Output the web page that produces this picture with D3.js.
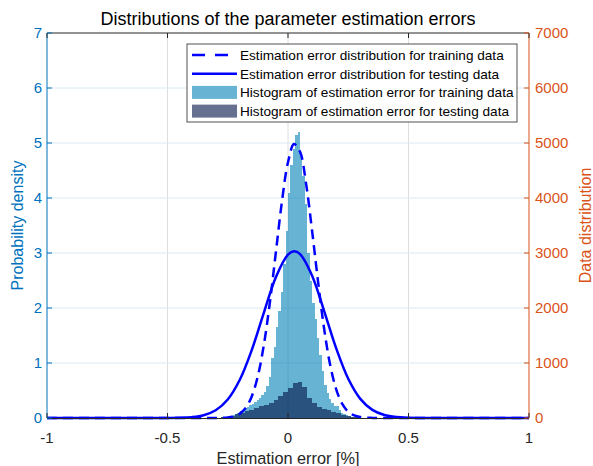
<!DOCTYPE html>
<html lang="en">
<head>
    <meta charset="UTF-8">
    <title>Distributions of the parameter estimation errors</title>
    <script src="https://d3js.org/d3.v7.min.js"></script>
    <style>
        body {
            margin: 0;
            background: #fff;
            font-family: "Liberation Sans", Arial, sans-serif;
        }
    </style>
</head>
<body>
    <div id="chart"></div>
    <script>
        // Axis ticks
        const xTicks = [-1, -0.5, 0, 0.5, 1];
        const yLeftTicks = [0, 1, 2, 3, 4, 5, 6, 7];
        const yRightTicks = [0, 1000, 2000, 3000, 4000, 5000, 6000, 7000];

        // Fitted distributions (probability density)
        const trainCurveX = [-1, -0.35, -0.325, -0.3, -0.275, -0.25, -0.225, -0.2, -0.175, -0.15, -0.125, -0.1, -0.075, -0.05, -0.025, 0, 0.025, 0.05, 0.075, 0.1, 0.125, 0.15, 0.175, 0.2, 0.225, 0.25, 0.275, 0.3, 0.325, 0.35, 0.375, 1];
        const trainCurveY = [0, 0, 0, 0.001, 0.004, 0.011, 0.031, 0.08, 0.187, 0.397, 0.763, 1.333, 2.109, 3.027, 3.94, 4.65, 4.98, 4.84, 4.26, 3.40, 2.47, 1.62, 0.965, 0.522, 0.256, 0.114, 0.046, 0.017, 0.006, 0.002, 0, 0];
        const testCurveX = [-1, -0.6, -0.55, -0.5, -0.45, -0.4, -0.35, -0.3, -0.25, -0.2, -0.15, -0.1, -0.05, 0, 0.025, 0.05, 0.1, 0.15, 0.2, 0.25, 0.3, 0.35, 0.4, 0.45, 0.5, 0.55, 0.6, 1];
        const testCurveY = [0, 0, 0, 0.001, 0.004, 0.016, 0.051, 0.141, 0.337, 0.695, 1.24, 1.917, 2.565, 2.97, 3.03, 2.98, 2.588, 1.945, 1.266, 0.713, 0.348, 0.147, 0.054, 0.017, 0.005, 0.001, 0, 0];

        // Histograms (counts), bins start at binStart and are binWidth wide
        const trainBinStart = -0.30, trainBinWidth = 0.01;
        const trainCounts = [5, 8, 12, 15, 20, 30, 45, 60, 80, 100, 125, 150, 175, 200, 230, 260, 290, 320, 360, 410, 480, 580, 750, 1100, 1300, 1650, 1950, 2300, 2800, 3400, 4100, 4600, 4900, 5150, 5200, 4800, 4400, 3900, 3000, 2500, 2100, 1800, 1450, 1150, 850, 600, 450, 350, 280, 220, 210, 140, 100, 70, 50, 35, 25, 15, 10, 6, 3];
        const testBinStart = -0.30, testBinWidth = 0.02;
        const testCounts = [5, 10, 20, 40, 70, 100, 125, 150, 175, 210, 240, 280, 330, 400, 470, 540, 630, 650, 560, 360, 270, 205, 160, 140, 110, 85, 60, 40, 25, 12, 5];

        const legendLabels = [
            "Estimation error distribution for training data",
            "Estimation error distribution for testing data",
            "Histogram of estimation error for training data",
            "Histogram of estimation error for testing data"
        ];

        const width = 593, height = 466;
        const margin = {top: 33, right: 64, bottom: 48, left: 47};
        const blueAxis = "#0072BD", orangeAxis = "#D95319", dark = "#262626";
        const trainFill = "rgb(0,128,182)", testFill = "rgb(0,17,70)";

        const svg = d3.select("#chart").append("svg")
            .attr("width", width)
            .attr("height", height)
            .style("font-family", "'Liberation Sans', Arial, sans-serif");

        const x = d3.scaleLinear().domain([-1, 1]).range([margin.left, width - margin.right]);
        const yL = d3.scaleLinear().domain([0, 7]).range([height - margin.bottom, margin.top]);
        const yR = d3.scaleLinear().domain([0, 7000]).range([height - margin.bottom, margin.top]);

        const x0 = margin.left, x1 = width - margin.right;
        const y0 = height - margin.bottom, y1 = margin.top;

        // Grid
        const grid = svg.append("g");
        grid.selectAll(".vg").data(xTicks.slice(1, -1)).enter().append("line")
            .attr("x1", d => x(d)).attr("x2", d => x(d))
            .attr("y1", y0).attr("y2", y1)
            .attr("stroke", "#dedede").attr("stroke-width", 1);
        grid.selectAll(".hg").data(yLeftTicks.slice(1, -1)).enter().append("line")
            .attr("x1", x0).attr("x2", x1)
            .attr("y1", d => yL(d)).attr("y2", d => yL(d))
            .attr("stroke", "#d9eaf5").attr("stroke-width", 1);

        // Histograms
        function drawHist(counts, start, w, fill) {
            svg.append("g").selectAll("rect")
                .data(counts.map((c, i) => ({x0: start + i * w, x1: start + (i + 1) * w, c: c})))
                .enter().append("rect")
                .attr("x", d => x(d.x0))
                .attr("width", d => x(d.x1) - x(d.x0))
                .attr("y", d => yR(d.c))
                .attr("height", d => yR(0) - yR(d.c))
                .attr("fill", fill)
                .attr("fill-opacity", 0.6)
                .attr("shape-rendering", "crispEdges");
        }
        drawHist(trainCounts, trainBinStart, trainBinWidth, trainFill);
        drawHist(testCounts, testBinStart, testBinWidth, testFill);

        // Curves
        const line = d3.line()
            .x(d => x(d[0]))
            .y(d => yL(d[1]))
            .curve(d3.curveCatmullRom);
        svg.append("path")
            .datum(trainCurveX.map((v, i) => [v, trainCurveY[i]]))
            .attr("d", line)
            .attr("fill", "none").attr("stroke", "blue")
            .attr("stroke-width", 2.5)
            .attr("stroke-dasharray", "10,6");
        svg.append("path")
            .datum(testCurveX.map((v, i) => [v, testCurveY[i]]))
            .attr("d", line)
            .attr("fill", "none").attr("stroke", "blue")
            .attr("stroke-width", 2.5);

        // Box / axes lines
        svg.append("line").attr("x1", x0).attr("x2", x1).attr("y1", y1).attr("y2", y1)
            .attr("stroke", dark).attr("stroke-width", 1);
        svg.append("line").attr("x1", x0).attr("x2", x1).attr("y1", y0 + 0.5).attr("y2", y0 + 0.5)
            .attr("stroke", dark).attr("stroke-width", 1);
        svg.append("line").attr("x1", x0).attr("x2", x0).attr("y1", y0).attr("y2", y1)
            .attr("stroke", blueAxis).attr("stroke-width", 1);
        svg.append("line").attr("x1", x1).attr("x2", x1).attr("y1", y0).attr("y2", y1)
            .attr("stroke", orangeAxis).attr("stroke-width", 1);

        // X ticks (bottom and top, inward)
        const tk = 5;
        xTicks.forEach(t => {
            svg.append("line").attr("x1", x(t)).attr("x2", x(t)).attr("y1", y0).attr("y2", y0 - tk)
                .attr("stroke", dark);
            svg.append("line").attr("x1", x(t)).attr("x2", x(t)).attr("y1", y1).attr("y2", y1 + tk)
                .attr("stroke", dark);
        });
        svg.append("g").selectAll("text").data(xTicks).enter().append("text")
            .attr("x", d => x(d)).attr("y", y0 + 25)
            .attr("text-anchor", "middle")
            .attr("font-size", 15).attr("fill", dark)
            .text(d => d);

        // Left y axis
        yLeftTicks.forEach(t => {
            svg.append("line").attr("x1", x0).attr("x2", x0 + tk).attr("y1", yL(t)).attr("y2", yL(t))
                .attr("stroke", blueAxis);
        });
        svg.append("g").selectAll("text").data(yLeftTicks).enter().append("text")
            .attr("x", x0 - 5).attr("y", d => yL(d) + 5)
            .attr("text-anchor", "end")
            .attr("font-size", 15).attr("fill", blueAxis)
            .text(d => d);

        // Right y axis
        yRightTicks.forEach(t => {
            svg.append("line").attr("x1", x1).attr("x2", x1 - tk).attr("y1", yR(t)).attr("y2", yR(t))
                .attr("stroke", orangeAxis);
        });
        svg.append("g").selectAll("text").data(yRightTicks).enter().append("text")
            .attr("x", x1 + 6).attr("y", d => yR(d) + 5)
            .attr("text-anchor", "start")
            .attr("font-size", 15).attr("fill", orangeAxis)
            .text(d => d);

        // Labels
        svg.append("text").attr("x", (x0 + x1) / 2).attr("y", 25)
            .attr("text-anchor", "middle").attr("font-size", 18).attr("fill", "#000")
            .text("Distributions of the parameter estimation errors");
        svg.append("text").attr("x", (x0 + x1) / 2).attr("y", 464)
            .attr("text-anchor", "middle").attr("font-size", 16.3).attr("fill", dark)
            .text("Estimation error [%]");
        svg.append("text")
            .attr("transform", `translate(23, ${(y0 + y1) / 2}) rotate(-90)`)
            .attr("text-anchor", "middle").attr("font-size", 16).attr("fill", blueAxis)
            .text("Probability density");
        svg.append("text")
            .attr("transform", `translate(591, ${(y0 + y1) / 2}) rotate(-90)`)
            .attr("text-anchor", "middle").attr("font-size", 16).attr("fill", orangeAxis)
            .text("Data distribution");

        // Legend
        const lg = svg.append("g").attr("transform", "translate(187, 44)");
        lg.append("rect").attr("width", 330).attr("height", 78)
            .attr("fill", "#fff").attr("stroke", dark).attr("stroke-width", 0.8);
        const rowY = i => 11 + i * 18.7;
        lg.append("line").attr("x1", 5).attr("x2", 50).attr("y1", rowY(0)).attr("y2", rowY(0))
            .attr("stroke", "blue").attr("stroke-width", 2.5).attr("stroke-dasharray", "13,10");
        lg.append("line").attr("x1", 5).attr("x2", 50).attr("y1", rowY(1)).attr("y2", rowY(1))
            .attr("stroke", "blue").attr("stroke-width", 2.5);
        lg.append("rect").attr("x", 5).attr("y", rowY(2) - 6.5).attr("width", 45).attr("height", 13)
            .attr("fill", trainFill).attr("fill-opacity", 0.6);
        lg.append("rect").attr("x", 5).attr("y", rowY(3) - 6.5).attr("width", 45).attr("height", 13)
            .attr("fill", testFill).attr("fill-opacity", 0.6);
        lg.selectAll(".lt").data(legendLabels).enter().append("text")
            .attr("x", 53).attr("y", (d, i) => rowY(i) + 5)
            .attr("font-size", 13.6).attr("fill", "#000")
            .text(d => d);
    </script>
</body>
</html>
